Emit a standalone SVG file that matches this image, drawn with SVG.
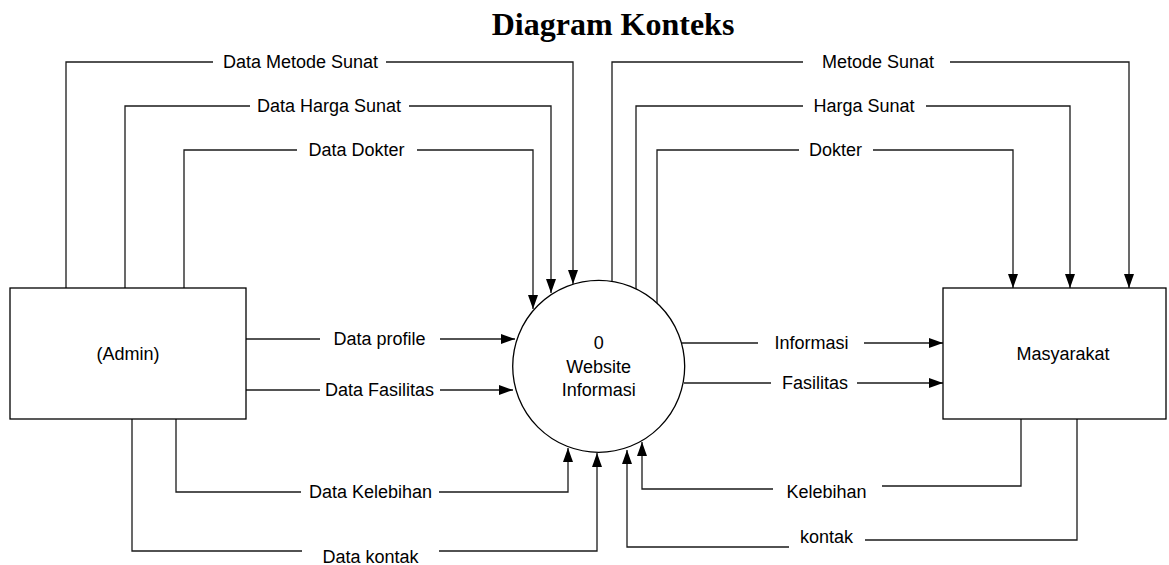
<svg xmlns="http://www.w3.org/2000/svg" width="1169" height="565" viewBox="0 0 1169 565">
<style>
.ln{fill:none;stroke:#1a1a1a;stroke-width:1.3}
.bx{fill:#fff;stroke:#000;stroke-width:1.3}
.lb{font-family:"Liberation Sans",Arial,sans-serif;font-size:18px;fill:#000;text-anchor:middle}
.tt{font-family:"Liberation Serif","Times New Roman",serif;font-size:32px;font-weight:bold;fill:#000;text-anchor:middle}
</style>
<defs>
<marker id="ah" markerUnits="userSpaceOnUse" markerWidth="14" markerHeight="10" refX="14" refY="5" orient="auto">
<path d="M0,0 L14,5 L0,10 z" fill="#000"/>
</marker>
</defs>
<rect width="1169" height="565" fill="#fff"/>
<text class="tt" x="613" y="35">Diagram Konteks</text>

<g id="connectors">
<!-- Admin -> process top -->
<polyline class="ln" points="66,288 66,62 213,62"/>
<polyline class="ln" points="386,62 573,62 573,284" marker-end="url(#ah)"/>
<text class="lb" x="300.5" y="68">Data Metode Sunat</text>

<polyline class="ln" points="125,288 125,106 250,106"/>
<polyline class="ln" points="409,106 551,106 551,293" marker-end="url(#ah)"/>
<text class="lb" x="329" y="112">Data Harga Sunat</text>

<polyline class="ln" points="184,288 184,150 297,150"/>
<polyline class="ln" points="417,150 533,150 533,309" marker-end="url(#ah)"/>
<text class="lb" x="356.5" y="156">Data Dokter</text>

<!-- Admin -> process side -->
<line class="ln" x1="246" y1="339" x2="320" y2="339"/>
<line class="ln" x1="440" y1="339" x2="515" y2="339" marker-end="url(#ah)"/>
<text class="lb" x="379.5" y="345">Data profile</text>

<line class="ln" x1="246" y1="390" x2="320" y2="390"/>
<line class="ln" x1="440" y1="390" x2="513" y2="390" marker-end="url(#ah)"/>
<text class="lb" x="379.5" y="396">Data Fasilitas</text>

<!-- Admin -> process bottom -->
<polyline class="ln" points="176,419 176,492 301,492"/>
<polyline class="ln" points="439,492 568,492 568,448" marker-end="url(#ah)"/>
<text class="lb" x="370.5" y="498">Data Kelebihan</text>

<polyline class="ln" points="132,419 132,551 302,551"/>
<polyline class="ln" points="439,551 597,551 597,453" marker-end="url(#ah)"/>
<text class="lb" x="370.5" y="563">Data kontak</text>

<!-- process -> Masyarakat top -->
<polyline class="ln" points="612,281 612,62 803,62"/>
<polyline class="ln" points="950,62 1129,62 1129,288" marker-end="url(#ah)"/>
<text class="lb" x="878" y="68">Metode Sunat</text>

<polyline class="ln" points="636,289 636,106 803,106"/>
<polyline class="ln" points="926,106 1070,106 1070,288" marker-end="url(#ah)"/>
<text class="lb" x="864" y="112">Harga Sunat</text>

<polyline class="ln" points="657,303 657,150 799,150"/>
<polyline class="ln" points="873,150 1013,150 1013,288" marker-end="url(#ah)"/>
<text class="lb" x="835.5" y="156">Dokter</text>

<!-- process -> Masyarakat side -->
<line class="ln" x1="682" y1="343" x2="758" y2="343"/>
<line class="ln" x1="864" y1="343" x2="943" y2="343" marker-end="url(#ah)"/>
<text class="lb" x="811.5" y="349">Informasi</text>

<line class="ln" x1="684" y1="383" x2="771" y2="383"/>
<line class="ln" x1="857" y1="383" x2="943" y2="383" marker-end="url(#ah)"/>
<text class="lb" x="815" y="389">Fasilitas</text>

<!-- Masyarakat -> process bottom -->
<polyline class="ln" points="1021,419 1021,486 882,486"/>
<polyline class="ln" points="773,489 642,489 642,442" marker-end="url(#ah)"/>
<text class="lb" x="826.5" y="498">Kelebihan</text>

<polyline class="ln" points="1077,419 1077,540 865,540"/>
<polyline class="ln" points="789,547 627,547 627,450" marker-end="url(#ah)"/>
<text class="lb" x="826.5" y="543">kontak</text>
</g>

<g id="admin">
<rect class="bx" x="10" y="288" width="236" height="131"/>
<text class="lb" x="128" y="360">(Admin)</text>
</g>

<g id="process">
<circle class="bx" cx="598.7" cy="366.3" r="86"/>
<text class="lb" x="598.7" y="349">0</text>
<text class="lb" x="598.7" y="373">Website</text>
<text class="lb" x="598.7" y="396">Informasi</text>
</g>

<g id="masyarakat">
<rect class="bx" x="943" y="288" width="223" height="131"/>
<text class="lb" x="1063" y="360">Masyarakat</text>
</g>
</svg>
